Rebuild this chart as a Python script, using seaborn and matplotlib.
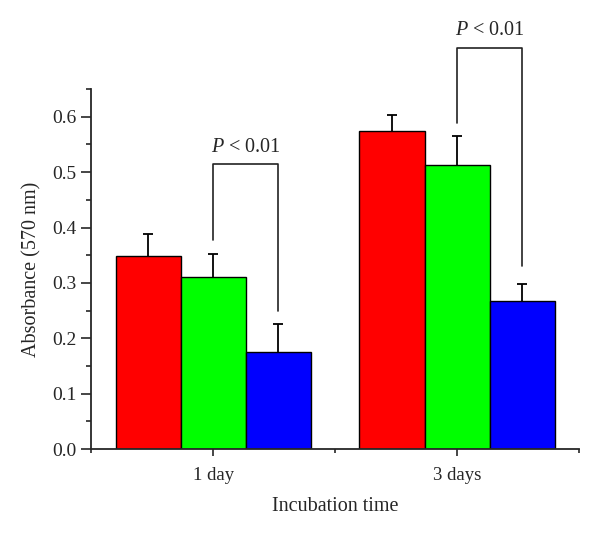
import matplotlib
matplotlib.use("Agg")
import matplotlib.pyplot as plt
from matplotlib.ticker import MultipleLocator, FixedLocator
import seaborn as sns
import pandas as pd
import numpy as np

categories = ["1 day", "3 days"]
groups = ["Group 1", "Group 2", "Group 3"]
values = {
    "Group 1": [0.349, 0.574],
    "Group 2": [0.311, 0.513],
    "Group 3": [0.175, 0.267],
}
errors = {
    "Group 1": [0.040, 0.029],
    "Group 2": [0.042, 0.052],
    "Group 3": [0.050, 0.031],
}
colors = ["#FF0000", "#00FF00", "#0000FF"]
# brackets: (category, left bottom, right bottom, top, label y)
brackets = [
    (0, 0.377, 0.249, 0.514, 0.528),
    (1, 0.588, 0.330, 0.724, 0.738),
]
p_label = r"$P$ < 0.01"

rows = []
for g in groups:
    for c, v in zip(categories, values[g]):
        rows.append({"cat": c, "grp": g, "val": v})
df = pd.DataFrame(rows)

sns.set_style("ticks")
plt.rcParams['font.family'] = ['Liberation Serif', 'DejaVu Serif']
plt.rcParams['mathtext.fontset'] = 'custom'
plt.rcParams['mathtext.it'] = 'Liberation Serif:italic'
plt.rcParams['mathtext.rm'] = 'Liberation Serif'

fig = plt.figure(figsize=(6, 5.4), dpi=100)
ax = fig.add_axes([0.152, 0.1685, 0.813, 0.6665])

sns.barplot(data=df, x="cat", y="val", hue="grp", order=categories, hue_order=groups,
            palette=colors, edgecolor="black", linewidth=1.0, width=0.8,
            errorbar=None, legend=False, ax=ax, saturation=1)

centers = {}
for gi, (g, cont) in enumerate(zip(groups, ax.containers)):
    xs = [b.get_x() + b.get_width() / 2 for b in cont]
    hs = [b.get_height() for b in cont]
    centers[g] = xs
    err = errors[g]
    eb = ax.errorbar(xs, hs, yerr=[np.zeros(len(err)), err], fmt="none",
                     ecolor="black", elinewidth=1.3, capsize=3.5, capthick=1.3, zorder=3)
    caps = eb[1]
    if len(caps) >= 1:
        caps[0].set_visible(False)

for ci, lb, rb, top, ty in brackets:
    xl = centers["Group 2"][ci]
    xr = centers["Group 3"][ci]
    ax.plot([xl, xl, xr, xr], [lb, top, top, rb], color="#222222", lw=1.2,
            clip_on=False, zorder=4)
    ax.text((xl + xr) / 2, ty, p_label, ha="center", va="bottom", fontsize=14.5,
            clip_on=False)

ax.set_xlim(-0.5, 1.5)
ax.set_ylim(0, 0.65)
ax.yaxis.set_major_locator(MultipleLocator(0.1))
ax.yaxis.set_minor_locator(MultipleLocator(0.05))
ax.yaxis.set_major_formatter(matplotlib.ticker.FormatStrFormatter("%.1f"))
ax.xaxis.set_minor_locator(FixedLocator([-0.5, 0.5, 1.5]))
ax.tick_params(axis="y", which="major", direction="out", length=7, width=1.2, labelsize=14)
ax.tick_params(axis="y", which="minor", direction="out", length=3.5, width=1.2)
ax.tick_params(axis="x", which="major", direction="out", length=5, width=1.2, labelsize=13.5, pad=8)
ax.tick_params(axis="x", which="minor", direction="out", length=3, width=1.2)
for s in ["left", "bottom"]:
    ax.spines[s].set_linewidth(1.3)
sns.despine(ax=ax)

ax.set_xlabel("Incubation time", fontsize=14.5, labelpad=9)
ax.set_ylabel("Absorbance (570 nm)", fontsize=14.5, labelpad=8)

fig.savefig("out.png", dpi=100)
